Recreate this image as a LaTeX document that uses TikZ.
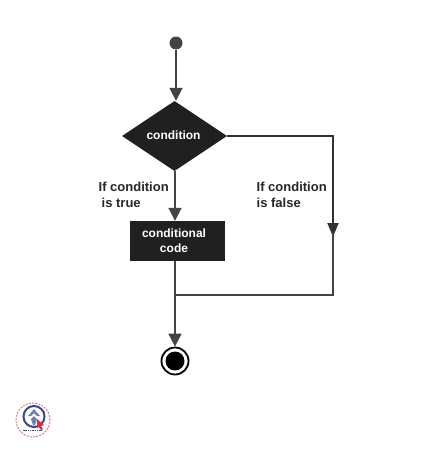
\documentclass[tikz,border=0pt]{standalone}
\usepackage{fontspec}
\setmainfont{Liberation Sans}
\usetikzlibrary{arrows.meta,positioning,calc,shapes.geometric}
\definecolor{darkbox}{RGB}{32,32,32}
\definecolor{flowcol}{RGB}{68,68,68}
\definecolor{logoblue}{RGB}{52,72,150}
\definecolor{logored}{RGB}{214,50,60}
\tikzset{>=Latex}
\tikzset{flowline/.style={draw=flowcol,line width=1.8pt}}
\tikzset{flowarrow/.style={flowline,-{Triangle[length=13pt,width=13pt]}}}
\tikzset{boxlabel/.style={text=white,font=\bfseries\fontsize{12}{15}\selectfont,align=center}}
\tikzset{sidelabel/.style={text=black!85,font=\bfseries\fontsize{13}{16}\selectfont,align=left,anchor=north west,inner sep=0pt}}
\begin{document}
\begin{tikzpicture}[x=1pt,y=-1pt]
  \useasboundingbox (0,0) rectangle (424,450);
  % flow nodes
  \node [circle,fill=flowcol,minimum size=13pt,inner sep=0pt] at (176,43) (start) {};
  \node [diamond,fill=darkbox,minimum width=105pt,minimum height=70pt,inner sep=0pt] at (174.5,136) (cond) {};
  \node [boxlabel] at (173.5,135) (condtxt) {condition};
  \node [rectangle,fill=darkbox,minimum width=95pt,minimum height=40pt,inner sep=0pt] at (177.5,241) (code) {};
  \node [boxlabel] at (174,240.5) (codetxt) {conditional\\code};
  \node [circle,draw=black,line width=1.8pt,minimum size=27pt,inner sep=0pt] at (175,361) (stop) {};
  \node [circle,fill=black,minimum size=19pt,inner sep=0pt] at (stop.center) (stopdot) {};
  % side texts
  \node [sidelabel] at (98.5,181.5) (truetxt) {If condition\\\hspace*{3pt}is true};
  \node [sidelabel] at (256.5,181.5) (falsetxt) {If condition\\is false};
  % corners of the false branch
  \coordinate (falsemid) at (333,237);
  \coordinate (falseback) at (333,232);
  \coordinate (join) at (175,295);
  \coordinate (condout) at (join |- cond.south);
  \coordinate (codeout) at (join |- code.south);
  \coordinate (codein) at (join |- code.north);

  \draw [flowarrow] (start) -- (cond.north -| start);
  \draw [flowarrow] (condout) -- (codein);
  \draw [flowline,draw=black!80,-{Triangle[length=14pt,width=11pt]}] (cond.east) -| (falsemid);
  \draw [flowline] (falseback) |- (join);
  \draw [flowline] (codeout) -- (join);
  \draw [flowarrow] (join) -- (stop.north);

  % logo in the corner
  \begin{scope} [shift={(33,420)}]
    \draw [logored!70,line width=0.9pt,dash pattern=on 2pt off 1.2pt] (0,0) circle (17pt);
    \draw [logoblue,line width=2pt] (1,-3.5) circle (10.5pt);
    \fill [logoblue!70] (-5,-4) -- (1,-11) -- (7,-4) -- (4,-4) -- (1,-7) -- (-2,-4) -- cycle;
    \fill [logoblue!70] (-2,-1) -- (1,-4) -- (4,-1) -- (2,5) -- (0,5) -- cycle;
    \fill [logored] (4,-1) -- (11,5) -- (8,6) -- (10,9) -- (8,10) -- (6,7) -- (4,8) -- cycle;
    \draw [logoblue,line width=1.2pt,dash pattern=on 1.5pt off 0.8pt] (-10,10.5) -- (9,10.5);
  \end{scope}
\end{tikzpicture}
\end{document}
